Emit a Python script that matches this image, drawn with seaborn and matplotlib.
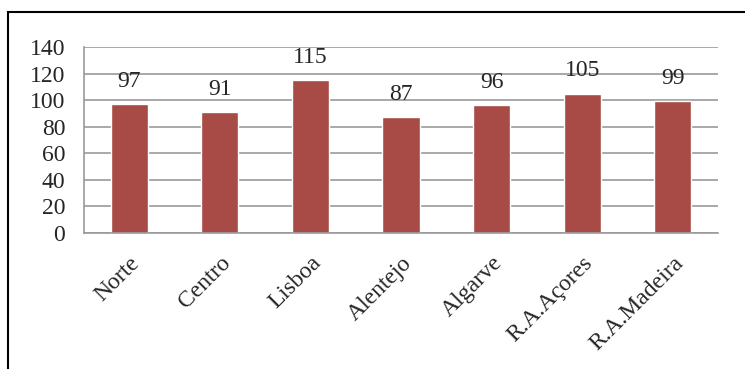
import matplotlib
matplotlib.use("Agg")
import matplotlib.pyplot as plt
import seaborn as sns
import pandas as pd
from matplotlib.patches import Rectangle

# data
regions = ["Norte", "Centro", "Lisboa", "Alentejo", "Algarve", "R.A.Açores", "R.A.Madeira"]
values = [97, 91, 115, 87, 96, 105, 99]
y_ticks = [0, 20, 40, 60, 80, 100, 120, 140]

df = pd.DataFrame({"region": regions, "value": values})

sns.set_style("white")
plt.rcParams["font.family"] = ["Liberation Serif", "DejaVu Serif"]

fig = plt.figure(figsize=(7.45, 3.69), dpi=100)
ax = fig.add_axes([0.1128, 0.3686, 0.851, 0.504])

sns.barplot(data=df, x="region", y="value", color="#A84A45", width=0.41,
            saturation=1, ax=ax)

ax.set_ylim(0, 140)
ax.set_xlim(-0.5, len(regions) - 0.5)
ax.set_yticks(y_ticks)
ax.yaxis.grid(True, color="#9a9a9a", linewidth=1.2)
ax.set_axisbelow(True)
ax.set_xlabel("")
ax.set_ylabel("")

for side in ["top", "right"]:
    ax.spines[side].set_visible(False)
for side in ["left", "bottom"]:
    ax.spines[side].set_color("#9a9a9a")
    ax.spines[side].set_linewidth(1.2)

# ticks between categories on x
ax.set_xticks(range(len(regions)))
ax.set_xticklabels(regions, rotation=45, ha="right", rotation_mode="anchor", fontsize=17)
ax.tick_params(axis="x", length=0, pad=14)
ax.set_xticks([i - 0.5 for i in range(len(regions) + 1)], minor=True)
ax.tick_params(axis="x", which="minor", length=5, color="#9a9a9a", width=1.2, direction="out")
ax.tick_params(axis="y", length=4.5, color="#9a9a9a", width=1.2, labelsize=17, pad=9)

ax.bar_label(ax.containers[0], labels=[str(v) for v in values], padding=9, fontsize=17)

# outer frame
fig.patches.append(Rectangle((0.011, -0.1), 1.2, 1.067, transform=fig.transFigure,
                             fill=False, edgecolor="black", linewidth=1.5))

fig.savefig("out.png", dpi=100)
